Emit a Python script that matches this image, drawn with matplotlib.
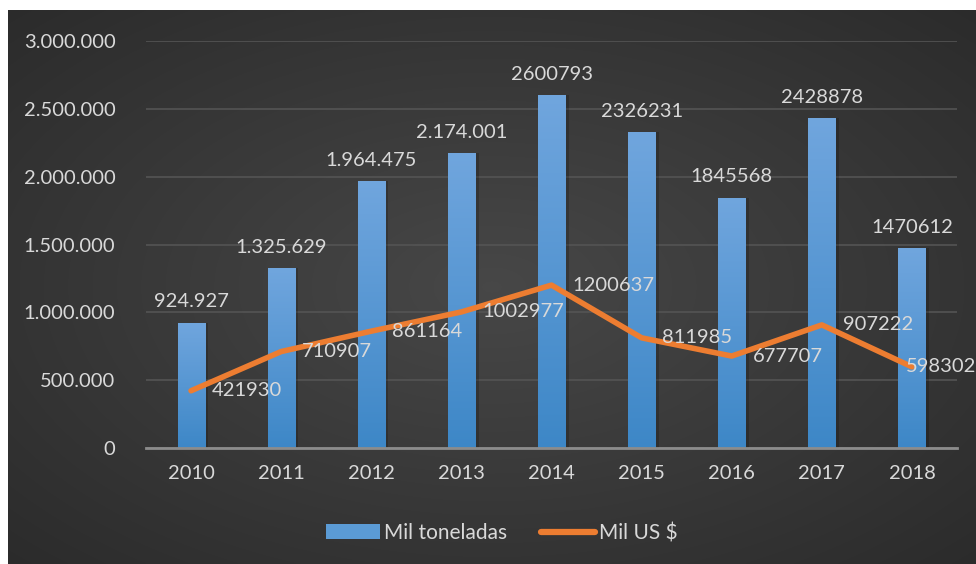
import matplotlib.pyplot as plt
import numpy as np
from matplotlib.patches import Patch
from matplotlib.lines import Line2D

# dados
anos = ["2010", "2011", "2012", "2013", "2014", "2015", "2016", "2017", "2018"]
mil_toneladas = [924927, 1325629, 1964475, 2174001, 2600793, 2326231, 1845568, 2428878, 1470612]
mil_usd = [421930, 710907, 861164, 1002977, 1200637, 811985, 677707, 907222, 598302]
rotulos_barras = ["924.927", "1.325.629", "1.964.475", "2.174.001",
                  "2600793", "2326231", "1845568", "2428878", "1470612"]
yticks = [0, 500000, 1000000, 1500000, 2000000, 2500000, 3000000]
ytick_labels = ["0", "500.000", "1.000.000", "1.500.000", "2.000.000", "2.500.000", "3.000.000"]

plt.rcParams["font.family"] = ["Lato", "DejaVu Sans"]
cor_texto = "#d9d9d9"
fs = 14.5

W, H = 976, 564
fig = plt.figure(figsize=(W / 100, H / 100), dpi=100, facecolor="white")

# fundo com gradiente radial
bg = fig.add_axes([8 / W, 0, 1 - 8 / W, 1 - 10 / H])
bg.set_axis_off()
yy, xx = np.mgrid[-1:1:300j, -1:1:500j]
r = np.sqrt(xx ** 2 + yy ** 2) / np.sqrt(2)
g = 0.28 - 0.11 * r
img = np.dstack([g, g, g])
bg.imshow(img, aspect="auto", extent=[0, 1, 0, 1], interpolation="bilinear")
bg.set_xlim(0, 1)
bg.set_ylim(0, 1)

ax = fig.add_axes([146 / W, 1 - 448 / H, (957 - 146) / W, (448 - 41) / H])
ax.patch.set_alpha(0)
x = np.arange(len(anos))

ax.set_yticks(yticks)
ax.set_yticklabels(ytick_labels)
ax.set_xticks(x)
ax.set_xticklabels(anos)
ax.grid(axis="y", color="#545454", linewidth=1.2, zorder=0)
ax.set_axisbelow(True)
for s in ["top", "right", "left"]:
    ax.spines[s].set_visible(False)
ax.spines["bottom"].set_color("#8c8c8c")
ax.spines["bottom"].set_linewidth(2)
ax.spines["bottom"].set_zorder(5)
ax.tick_params(axis="both", length=0, colors=cor_texto, labelsize=fs)
ax.tick_params(axis="y", pad=22)
ax.tick_params(axis="x", pad=12)

# sombra das barras
ax.bar(x + 0.04, mil_toneladas, width=0.3, color="black", alpha=0.18, zorder=2)
barras = ax.bar(x, mil_toneladas, width=0.3, color="#5b9bd5", zorder=3)

# gradiente nas barras
grad = np.linspace(0, 1, 256).reshape(-1, 1)
topo = np.array([0.44, 0.65, 0.87])
base = np.array([0.24, 0.53, 0.78])
cores = (base + (topo - base) * grad).reshape(256, 1, 3)
for b in barras:
    x0, y0 = b.get_x(), b.get_y()
    w, h = b.get_width(), b.get_height()
    im = ax.imshow(cores, aspect="auto", extent=[x0, x0 + w, y0, y0 + h],
                   origin="lower", zorder=3.5)
    im.set_clip_path(b)

ax.set_xlim(-0.5, len(anos) - 0.5)
ax.set_ylim(0, 3000000)

for xi, v, t in zip(x, mil_toneladas, rotulos_barras):
    ax.annotate(t, (xi, v), xytext=(0, 9), textcoords="offset points",
                ha="center", va="bottom", color=cor_texto, fontsize=fs, zorder=6)

ax.plot(x, mil_usd, color="#ed7d31", linewidth=4, solid_capstyle="round",
        solid_joinstyle="round", zorder=7)
for i, (xi, v) in enumerate(zip(x, mil_usd)):
    # como no Excel, o último rótulo é empurrado para dentro da área
    dx = 15 if i < len(mil_usd) - 1 else -4
    ax.annotate(str(v), (xi, v), xytext=(dx, 0), textcoords="offset points",
                ha="left", va="center", color=cor_texto, fontsize=fs, zorder=8,
                annotation_clip=False)

handles = [Patch(facecolor="#5b9bd5", label="Mil toneladas"),
           Line2D([0], [0], color="#ed7d31", linewidth=4.5, solid_capstyle="round",
                  label="Mil US $")]
fig.legend(handles=handles, loc="center", bbox_to_anchor=(502 / W, 1 - 533 / H),
           ncol=2, frameon=False, fontsize=fs + 0.5, labelcolor=cor_texto,
           handlelength=2.6, handletextpad=0.2, columnspacing=1.6)

fig.savefig("out.png", dpi=100, facecolor="white")
